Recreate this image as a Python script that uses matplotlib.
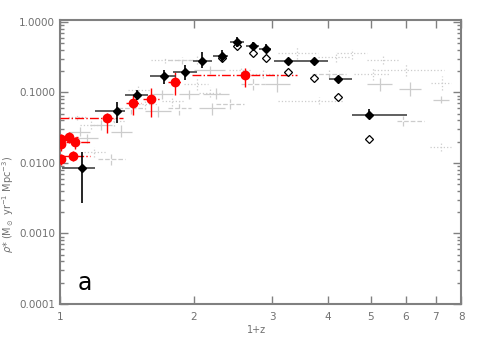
import numpy as np
import matplotlib.pyplot as plt
from matplotlib.ticker import FixedLocator, FixedFormatter, LogLocator, NullFormatter

# Datos: 1+z y densidad de formacion estelar (Msun/yr/Mpc^3)
blk_x = [1.121, 1.341, 1.49, 1.711, 1.915, 2.092, 2.317, 2.496, 2.713, 2.902, 3.253, 3.73, 4.227, 4.966]
blk_y = [0.00836, 0.0544, 0.0927, 0.171, 0.195, 0.282, 0.332, 0.525, 0.461, 0.418, 0.282, 0.282, 0.155, 0.0482]
blk_ylo = [0.00269, 0.0364, 0.078, 0.132, 0.150, 0.222, 0.270, 0.442, 0.400, 0.363, 0.262, 0.262, 0.143, 0.0418]
blk_yhi = [0.0144, 0.0738, 0.108, 0.208, 0.245, 0.375, 0.400, 0.612, 0.520, 0.487, 0.305, 0.305, 0.168, 0.0577]
blk_xlo = [1.009, 1.2, 1.40, 1.597, 1.80, 1.996, 2.215, 2.407, 2.616, 2.80, 3.026, 3.48, 4.027, 4.54]
blk_xhi = [1.2, 1.402, 1.58, 1.827, 2.038, 2.203, 2.394, 2.589, 2.80, 2.979, 3.48, 4.005, 4.54, 6.04]

open_x = [2.317, 2.496, 2.713, 2.902, 3.253, 3.73, 4.227, 4.966]
open_y = [0.305, 0.456, 0.366, 0.305, 0.193, 0.158, 0.0852, 0.022]

red_x = [1.811, 1.603, 1.462, 1.279, 1.0495, 1.005, 1.081, 1.005, 1.068, 1.004, 2.611]
red_y = [0.142, 0.0814, 0.0707, 0.0429, 0.0230, 0.0216, 0.0195, 0.0183, 0.0125, 0.0112, 0.178]
red_ylo = [0.092, 0.0447, 0.0478, 0.0265, 0.019, 0.018, 0.016, 0.015, 0.0105, 0.0095, 0.12]
red_yhi = [0.195, 0.1155, 0.0924, 0.051, 0.0275, 0.026, 0.0235, 0.022, 0.0148, 0.0132, 0.222]
red_xlo = [1.75, 1.54, 1.41, 1.0, 1.005, 0.98, 1.03, 0.98, 1.0, 0.98, 1.98]
red_xhi = [1.87, 1.67, 1.52, 1.388, 1.1, 1.03, 1.17, 1.03, 1.17, 1.03, 3.42]

# compilacion de fondo (gris)
gr_x = [7.25, 7.2, 7.2, 5.92, 6.13, 6.0, 5.25, 5.07, 3.818, 4.03, 4.17, 3.42, 3.086, 2.725, 2.87,
        2.55, 2.25, 2.17, 2.41, 2.2, 2.03, 1.955, 1.857, 1.79, 1.70, 1.664, 1.556, 1.446, 1.373,
        1.324, 1.238, 1.172, 1.109, 1.193, 1.303, 1.151, 2.03, 1.885, 1.726, 2.17, 4.54, 5.33, 1.09, 1.5]
gr_y = [0.136, 0.078, 0.0168, 0.0393, 0.112, 0.205, 0.132, 0.183, 0.0755, 0.183, 0.318, 0.357, 0.132,
        0.132, 0.183, 0.205, 0.0949, 0.0997, 0.0685, 0.06, 0.132, 0.0949, 0.06, 0.0755, 0.0949, 0.0544,
        0.0685, 0.06, 0.0279, 0.0393, 0.0344, 0.0344, 0.0279, 0.0142, 0.0113, 0.0225, 0.288, 0.288,
        0.288, 0.205, 0.357, 0.288, 0.045, 0.11]
gr_xlo = [6.84, 6.9, 6.8, 5.74, 5.8, 5.1, 4.9, 4.6, 3.09, 3.7, 3.8, 3.1, 2.9, 2.55, 2.7, 2.4, 2.1, 2.05,
          2.25, 2.05, 1.9, 1.85, 1.75, 1.7, 1.6, 1.55, 1.45, 1.35, 1.3, 1.25, 1.17, 1.11, 1.05, 1.13,
          1.22, 1.09, 1.85, 1.75, 1.6, 2.0, 4.2, 4.9, 1.04, 1.42]
gr_xhi = [7.6, 7.5, 7.6, 6.6, 6.5, 7.3, 5.6, 5.5, 4.35, 4.4, 4.5, 3.8, 3.3, 2.9, 3.05, 2.7, 2.4, 2.3,
          2.6, 2.35, 2.15, 2.05, 1.97, 1.9, 1.8, 1.78, 1.66, 1.55, 1.45, 1.4, 1.31, 1.24, 1.17, 1.27,
          1.4, 1.22, 2.2, 2.0, 1.85, 2.35, 4.9, 5.8, 1.15, 1.6]
gr_ylo = [0.11, 0.07, 0.015, 0.033, 0.09, 0.17, 0.105, 0.15, 0.068, 0.16, 0.27, 0.3, 0.1, 0.11, 0.16,
          0.17, 0.08, 0.085, 0.058, 0.048, 0.11, 0.08, 0.048, 0.065, 0.08, 0.045, 0.058, 0.05, 0.023,
          0.033, 0.029, 0.03, 0.024, 0.012, 0.0095, 0.019, 0.25, 0.25, 0.26, 0.18, 0.3, 0.25, 0.04, 0.095]
gr_yhi = [0.17, 0.09, 0.019, 0.047, 0.14, 0.25, 0.16, 0.22, 0.085, 0.21, 0.37, 0.45, 0.18, 0.16, 0.21,
          0.24, 0.115, 0.12, 0.082, 0.072, 0.16, 0.11, 0.075, 0.088, 0.11, 0.065, 0.08, 0.072, 0.034,
          0.046, 0.041, 0.04, 0.032, 0.017, 0.0135, 0.026, 0.33, 0.32, 0.31, 0.235, 0.42, 0.33, 0.05, 0.125]
gr_ls = [':', '-', ':', '--', '-', ':', '-', ':', ':', '--', ':', ':', '-', '--', ':', ':', '-', ':',
         '--', '-', ':', '-', '--', ':', '-', '-', ':', '--', '-', ':', '-', ':', '-', ':', '--', '-',
         ':', '--', ':', '-', ':', ':', ':', ':']


def errs(v, lo, hi):
    v, lo, hi = np.array(v), np.array(lo), np.array(hi)
    return [v - lo, hi - v]


gris = '#808080'
fig = plt.figure(figsize=(4.8, 3.43), dpi=100)
ax = fig.add_axes([0.125, 0.114, 0.836, 0.828])
ax.set_xscale('log')
ax.set_yscale('log')

# fondo gris
for i in range(len(gr_x)):
    xe = errs([gr_x[i]], [gr_xlo[i]], [gr_xhi[i]])
    ye = errs([gr_y[i]], [gr_ylo[i]], [gr_yhi[i]])
    _, _, bars = ax.errorbar([gr_x[i]], [gr_y[i]], xerr=xe, yerr=ye, fmt='none',
                             ecolor='#cccccc', elinewidth=0.9, zorder=1)
    for b in bars:
        b.set_linestyle(gr_ls[i])

# puntos rojos
_, _, bars = ax.errorbar(red_x, red_y, xerr=errs(red_x, red_xlo, red_xhi),
                         yerr=errs(red_y, red_ylo, red_yhi), fmt='o', color='red',
                         ms=6, ecolor='red', elinewidth=1.0, zorder=3)
bars[0].set_linestyle('-.')

# diamantes negros
_, _, bars = ax.errorbar(blk_x, blk_y, xerr=errs(blk_x, blk_xlo, blk_xhi),
                         yerr=errs(blk_y, blk_ylo, blk_yhi), fmt='D', color='black',
                         ms=4.5, ecolor='black', elinewidth=1.2, zorder=5)
bars[0].set_color('#444444')

ax.plot(open_x, open_y, 'D', mfc='white', mec='black', ms=4.5, mew=0.9, zorder=4)

ax.set_xlim(1, 8)
ax.set_ylim(1e-4, 1.07)

ax.xaxis.set_major_locator(FixedLocator([1, 2, 3, 4, 5, 6, 7, 8]))
ax.xaxis.set_major_formatter(FixedFormatter(['1', '2', '3', '4', '5', '6', '7', '8']))
ax.xaxis.set_minor_locator(FixedLocator([]))
ax.yaxis.set_major_locator(FixedLocator([1e-4, 1e-3, 1e-2, 1e-1, 1]))
ax.yaxis.set_major_formatter(FixedFormatter(['0.0001', '0.0010', '0.0100', '0.1000', '1.0000']))
ax.yaxis.set_minor_locator(LogLocator(base=10, subs=np.arange(2, 10)))
ax.yaxis.set_minor_formatter(NullFormatter())

ax.tick_params(which='both', direction='in', top=True, right=True, colors=gris,
               labelcolor='#707070', labelsize=7.5, width=1.0)
ax.tick_params(which='major', length=6)
ax.tick_params(which='minor', length=3)
ax.tick_params(axis='x', pad=6)
for s in ax.spines.values():
    s.set_color(gris)
    s.set_linewidth(1.5)

ax.set_xlabel('1+z', fontsize=7, color='#707070')
ax.xaxis.set_label_coords(0.49, -0.075)
ax.set_ylabel(r'$\rho$* (M$_\odot$ yr$^{-1}$ Mpc$^{-3}$)', fontsize=7, color='#707070')
ax.yaxis.set_label_coords(-0.11, 0.35)

ax.text(0.045, 0.075, 'a', transform=ax.transAxes, fontsize=17, color='black', va='center')

plt.savefig('out.png', dpi=100)
